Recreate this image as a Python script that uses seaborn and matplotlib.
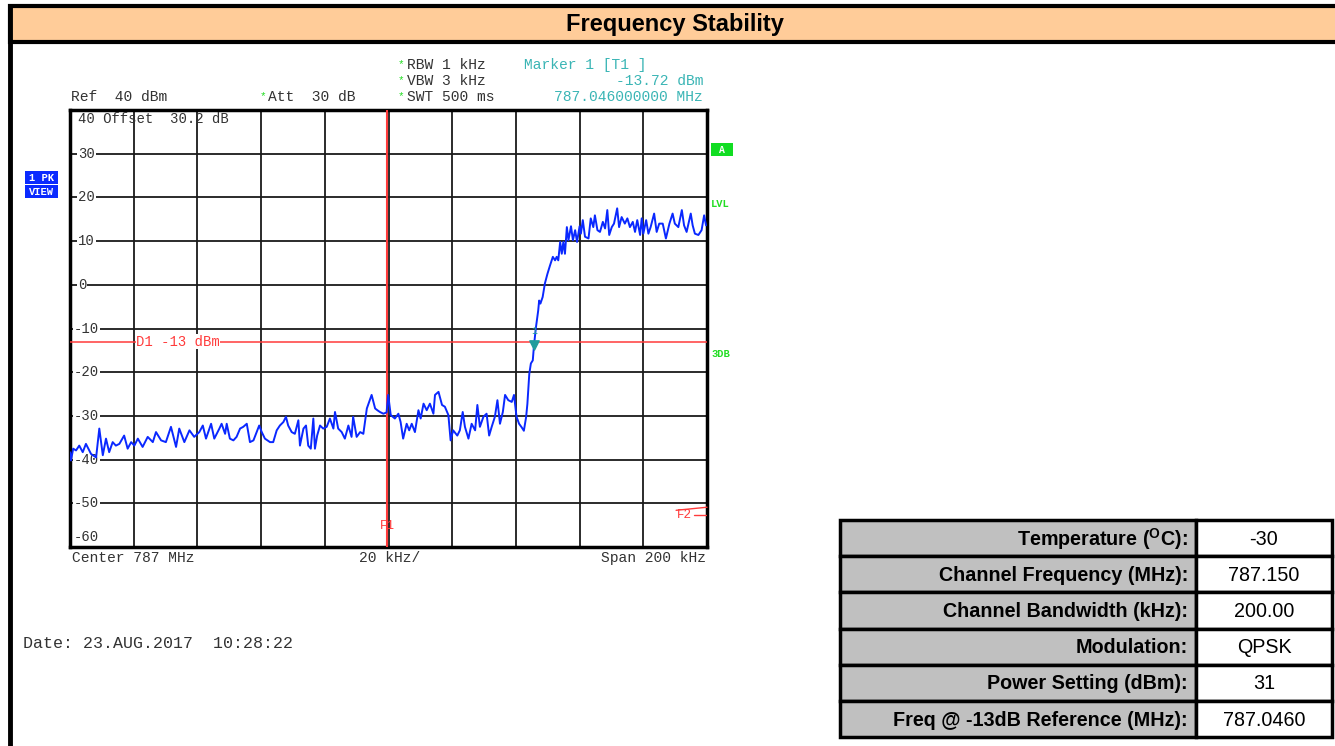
import numpy as np
import pandas as pd
import matplotlib
matplotlib.use("Agg")
import matplotlib.pyplot as plt
import seaborn as sns
from matplotlib.patches import Rectangle

# ---------------- data ----------------
# frequency offset from start of span (kHz), start = 786.9 MHz
freq_khz = [0.0, 0.3, 1.0, 1.9, 2.9, 4.0, 5.0, 6.6, 8.2, 9.2, 10.3, 11.3, 12.3, 13.4, 14.4, 15.5,
            17.0, 18.1, 19.2, 20.2, 21.3, 22.8, 24.4, 26.0, 27.0, 28.6, 30.1, 31.7, 33.3, 34.3,
            35.9, 37.5, 39.0, 40.6, 41.7, 42.7, 44.3, 45.3, 46.9, 47.6, 48.7, 49.2, 50.2, 51.3,
            52.3, 53.4, 54.4, 55.5, 56.5, 57.6, 58.6, 59.4, 60.2, 61.2, 62.8, 63.8, 64.9, 65.9,
            67.0, 67.8, 68.5, 69.6, 70.6, 71.7, 72.2, 73.3, 74.1, 74.8, 75.6, 76.4, 76.9, 77.6,
            78.5, 79.5, 80.6, 81.6, 82.7, 83.2, 84.2, 85.3, 86.3, 87.4, 88.4, 88.9, 90.0, 91.1,
            92.1, 93.2, 94.7, 95.8, 96.5, 97.3, 98.4, 99.4, 99.9, 100.7, 102.0, 103.1, 103.8,
            104.6, 105.7, 106.5, 107.3, 108.3, 109.4, 110.1, 111.0, 112.0, 113.0, 114.1, 114.6,
            115.7, 116.8, 117.7, 118.8, 119.5, 120.3, 121.6, 122.4, 123.3, 124.0, 125.1, 126.1,
            127.2, 127.9, 128.7, 129.8, 130.8, 131.6, 132.4, 133.4, 134.2, 135.0, 135.9, 136.6,
            137.6, 138.7, 139.4, 140.2, 141.0, 141.8, 142.5, 143.2, 143.6, 144.2, 144.7, 145.3,
            145.7, 146.3, 147.0, 147.3, 147.7, 148.4, 149.1, 149.9, 150.7, 151.6, 152.3, 152.8,
            153.3, 153.9, 154.4, 154.9, 155.4, 156.0, 156.5, 157.3, 157.9, 158.6, 159.2, 160.0,
            160.4, 161.0, 161.7, 162.8, 163.5, 164.3, 164.8, 165.6, 166.4, 167.3, 168.0, 168.7,
            169.3, 170.1, 170.8, 171.8, 172.4, 173.2, 174.2, 175.0, 175.8, 176.7, 177.4, 178.1,
            179.0, 179.5, 180.0, 180.9, 181.6, 182.3, 183.4, 184.2, 185.0, 186.1, 187.1, 188.2,
            189.2, 189.9, 191.0, 192.1, 192.8, 193.6, 194.9, 195.5, 196.2, 197.3, 198.3, 199.1,
            199.7]
level_dbm = [-38.3, -40.2, -37.5, -37.9, -36.8, -38.3, -36.4, -38.7, -39.5, -32.9, -39.0, -35.2,
             -38.3, -36.0, -36.8, -36.4, -34.5, -37.5, -36.0, -36.8, -35.2, -37.1, -34.8, -36.0,
             -33.7, -35.6, -36.0, -32.5, -37.1, -32.9, -36.0, -33.3, -34.8, -33.7, -32.2, -35.2,
             -31.8, -35.2, -32.9, -31.8, -34.1, -31.8, -35.2, -35.6, -34.8, -32.9, -32.5, -31.8,
             -36.0, -35.6, -33.7, -32.2, -33.7, -35.2, -36.0, -36.0, -33.3, -32.2, -31.4, -30.2,
             -32.2, -33.7, -34.1, -31.0, -36.8, -32.9, -32.2, -36.8, -37.5, -30.6, -37.5, -34.5,
             -32.2, -32.9, -32.5, -30.6, -32.9, -29.1, -32.9, -33.7, -35.2, -32.2, -34.8, -30.2,
             -34.8, -33.7, -34.1, -28.3, -25.2, -28.3, -28.7, -29.1, -29.5, -29.2, -25.2, -29.8,
             -30.6, -29.5, -31.4, -35.2, -31.8, -33.3, -31.8, -33.7, -28.7, -30.6, -27.2, -28.7,
             -27.2, -29.5, -25.2, -24.5, -27.5, -27.9, -29.8, -35.6, -33.3, -34.5, -33.3, -29.1,
             -32.5, -35.2, -31.8, -33.3, -27.5, -32.5, -30.2, -29.5, -34.5, -32.5, -30.2, -26.4,
             -31.8, -29.1, -25.2, -26.4, -26.8, -25.2, -30.2, -31.8, -32.6, -33.4, -30.3, -27.3,
             -20.4, -18.0, -17.3, -13.7, -9.7, -5.9, -3.6, -4.3, -2.8, 0.3, 2.5, 4.4, 6.4, 5.6,
             6.4, 5.6, 9.8, 7.1, 9.8, 7.1, 13.2, 10.2, 13.4, 10.2, 12.5, 9.8, 13.4, 11.7, 14.8,
             11.0, 10.6, 15.2, 13.2, 15.9, 12.5, 12.1, 14.4, 12.9, 17.1, 11.4, 13.2, 14.0, 17.5,
             13.2, 15.5, 14.0, 15.2, 13.2, 14.4, 12.1, 14.8, 11.4, 15.2, 11.7, 14.8, 11.7, 13.2,
             16.3, 12.1, 14.0, 14.0, 10.6, 14.0, 16.3, 14.0, 13.2, 17.1, 13.6, 12.1, 16.3, 13.6,
             11.7, 11.4, 12.5, 15.9, 13.6]

y_tick_values = [30, 20, 10, 0, -10, -20, -30, -40, -50]
display_line_dbm = -13
f1_khz = 99.5
marker_khz = 145.7
marker_dbm = -13.72

table_labels = [r"Temperature ($^\mathbf{O}$C):", "Channel Frequency (MHz):",
                "Channel Bandwidth (kHz):", "Modulation:", "Power Setting (dBm):",
                "Freq @ -13dB Reference (MHz):"]
table_values = ["-30", "787.150", "200.00", "QPSK", "31", "787.0460"]

# ---------------- style ----------------
sns.set_style("white")
plt.rcParams['font.family'] = ['Liberation Sans', 'DejaVu Sans']
plt.rcParams['mathtext.fontset'] = 'custom'
plt.rcParams['mathtext.rm'] = 'Liberation Sans'
plt.rcParams['mathtext.bf'] = 'Liberation Sans:bold'

W, H = 1335, 746
fig = plt.figure(figsize=(W / 100, H / 100), dpi=100)
fig.patch.set_facecolor('white')

# overlay axes in pixel coordinates for decorations
bg = fig.add_axes([0, 0, 1, 1])
bg.set_xlim(0, W)
bg.set_ylim(H, 0)
bg.axis('off')

MONO = 'Liberation Mono'
TXT = '#333333'
GREEN = '#22DD22'
TEAL = '#3AB5B5'
RED = '#FF3B3B'
BLUE_TRACE = '#0A28FF'

# header band
bg.add_patch(Rectangle((10, 6), W, 36, facecolor='#FFCC99', edgecolor='black', lw=3, zorder=1))
bg.plot([10, 10], [6, H], color='black', lw=3.5, zorder=2)
bg.text(675, 25, "Frequency Stability", ha='center', va='center', fontsize=17,
        fontweight='bold', color='black')

# instrument header texts
fs = 10.5
bg.text(71, 97, "Ref  40 dBm", family=MONO, fontsize=fs, color=TXT, va='center')
bg.text(260, 96, "*", family=MONO, fontsize=8, color=GREEN, va='center')
bg.text(268, 97, "Att  30 dB", family=MONO, fontsize=fs, color=TXT, va='center')
for yy, s in zip([65, 81, 97], ["RBW 1 kHz", "VBW 3 kHz", "SWT 500 ms"]):
    bg.text(398, yy - 1, "*", family=MONO, fontsize=8, color=GREEN, va='center')
    bg.text(407, yy, s, family=MONO, fontsize=fs, color=TXT, va='center')
bg.text(524, 65, "Marker 1 [T1 ]", family=MONO, fontsize=fs, color=TEAL, va='center')
bg.text(703, 81, "-13.72 dBm", family=MONO, fontsize=fs, color=TEAL, va='center', ha='right')
bg.text(703, 97, "787.046000000 MHz", family=MONO, fontsize=fs, color=TEAL, va='center', ha='right')

bg.text(72, 558, "Center 787 MHz", family=MONO, fontsize=fs, color=TXT, va='center')
bg.text(359, 558, "20 kHz/", family=MONO, fontsize=fs, color=TXT, va='center')
bg.text(706, 558, "Span 200 kHz", family=MONO, fontsize=fs, color=TXT, va='center', ha='right')
bg.text(23, 644, "Date: 23.AUG.2017  10:28:22", family=MONO, fontsize=12, color=TXT, va='center')

# left / right status boxes
for yy, s in [(171, "1 PK"), (185, "VIEW")]:
    bg.add_patch(Rectangle((25, yy), 33, 13, facecolor='#0A2AFF', edgecolor='none'))
    bg.text(41.5, yy + 6.8, s, family=MONO, fontsize=7.5, fontweight='bold', color='white',
            ha='center', va='center')
bg.add_patch(Rectangle((711, 143), 22, 13, facecolor='#11DD22', edgecolor='none'))
bg.text(722, 149.8, "A", family=MONO, fontsize=7, fontweight='bold', color='white',
        ha='center', va='center')
bg.text(711, 204, "LVL", family=MONO, fontsize=7.5, fontweight='bold', color=GREEN, va='center')
bg.text(711, 354, "3DB", family=MONO, fontsize=7.5, fontweight='bold', color=GREEN, va='center')

# ---------------- spectrum plot ----------------
ax = fig.add_axes([70 / W, 1 - 547 / H, 637 / W, 437 / H])
ax.set_facecolor('white')
df = pd.DataFrame({'freq': freq_khz, 'level': level_dbm})
sns.lineplot(data=df, x='freq', y='level', ax=ax, color=BLUE_TRACE, lw=1.4, zorder=6,
             estimator=None, sort=False)
ax.set_xlim(0, 200)
ax.set_ylim(-60, 40)
ax.set_xticks(np.arange(0, 201, 20))
ax.set_yticks(np.arange(-60, 41, 10))
ax.grid(True, color='#1a1a1a', lw=1.3)
ax.tick_params(left=False, bottom=False, labelleft=False, labelbottom=False)
ax.set_xlabel('')
ax.set_ylabel('')
for sp in ax.spines.values():
    sp.set_color('black')
    sp.set_linewidth(2.5)
    sp.set_visible(True)

tfs = 10
for v in y_tick_values:
    xx = 2.5 if v >= 0 else 1.2
    ax.text(xx, v, str(v), family=MONO, fontsize=tfs, color=TXT, ha='left', va='center',
            zorder=3, bbox=dict(facecolor='white', edgecolor='none', pad=0.6))
ax.text(1.2, -57.8, "-60", family=MONO, fontsize=tfs, color=TXT, ha='left', va='center', zorder=3)
ax.text(2.4, 37.9, "40 Offset  30.2 dB", family=MONO, fontsize=tfs, color=TXT, ha='left',
        va='center', zorder=3)

# display line D1
ax.axhline(display_line_dbm, color=RED, lw=1.1, zorder=4)
ax.text(20.8, display_line_dbm, "D1 -13 dBm", family=MONO, fontsize=tfs, color=RED, ha='left',
        va='center', zorder=4.5, bbox=dict(facecolor='white', edgecolor='none', pad=0.2))

# frequency line F1
ax.axvline(f1_khz, color=RED, lw=1.5, zorder=4)
ax.text(f1_khz, -55.3, "F1", family=MONO, fontsize=9, color=RED, ha='center', va='center', zorder=4.5)

# F2 (outside span) indicator
ax.plot([190.3, 200], [-51.6, -50.9], color=RED, lw=1.0, zorder=4, clip_on=False)
ax.text(190.5, -52.6, "F2", family=MONO, fontsize=9, color=RED, ha='left', va='center', zorder=4.5)
ax.plot([196.0, 199.6], [-52.6, -52.6], color=RED, lw=1.0, zorder=4)

# marker 1
ax.scatter([marker_khz], [marker_dbm], marker='v', s=45, color='#1E9C9C', zorder=7)
ax.text(marker_khz, -10.6, "1", family=MONO, fontsize=7, color='#1E9C9C', ha='center',
        va='center', zorder=7)

# ---------------- info table ----------------
row_h = 36.2
for i, (lab, val) in enumerate(zip(table_labels, table_values)):
    y0 = 520 + i * row_h
    bg.add_patch(Rectangle((840, y0), 356, row_h, facecolor='#C0C0C0', edgecolor='black', lw=2.5))
    bg.add_patch(Rectangle((1196, y0), 136, row_h, facecolor='white', edgecolor='black', lw=2.5))
    bg.text(1188, y0 + row_h / 2 + 1, lab, ha='right', va='center', fontsize=14.2,
            fontweight='bold', color='black')
    bg.text(1264, y0 + row_h / 2 + 1, val, ha='center', va='center', fontsize=14.2, color='black')

fig.savefig('out.png', dpi=100)
